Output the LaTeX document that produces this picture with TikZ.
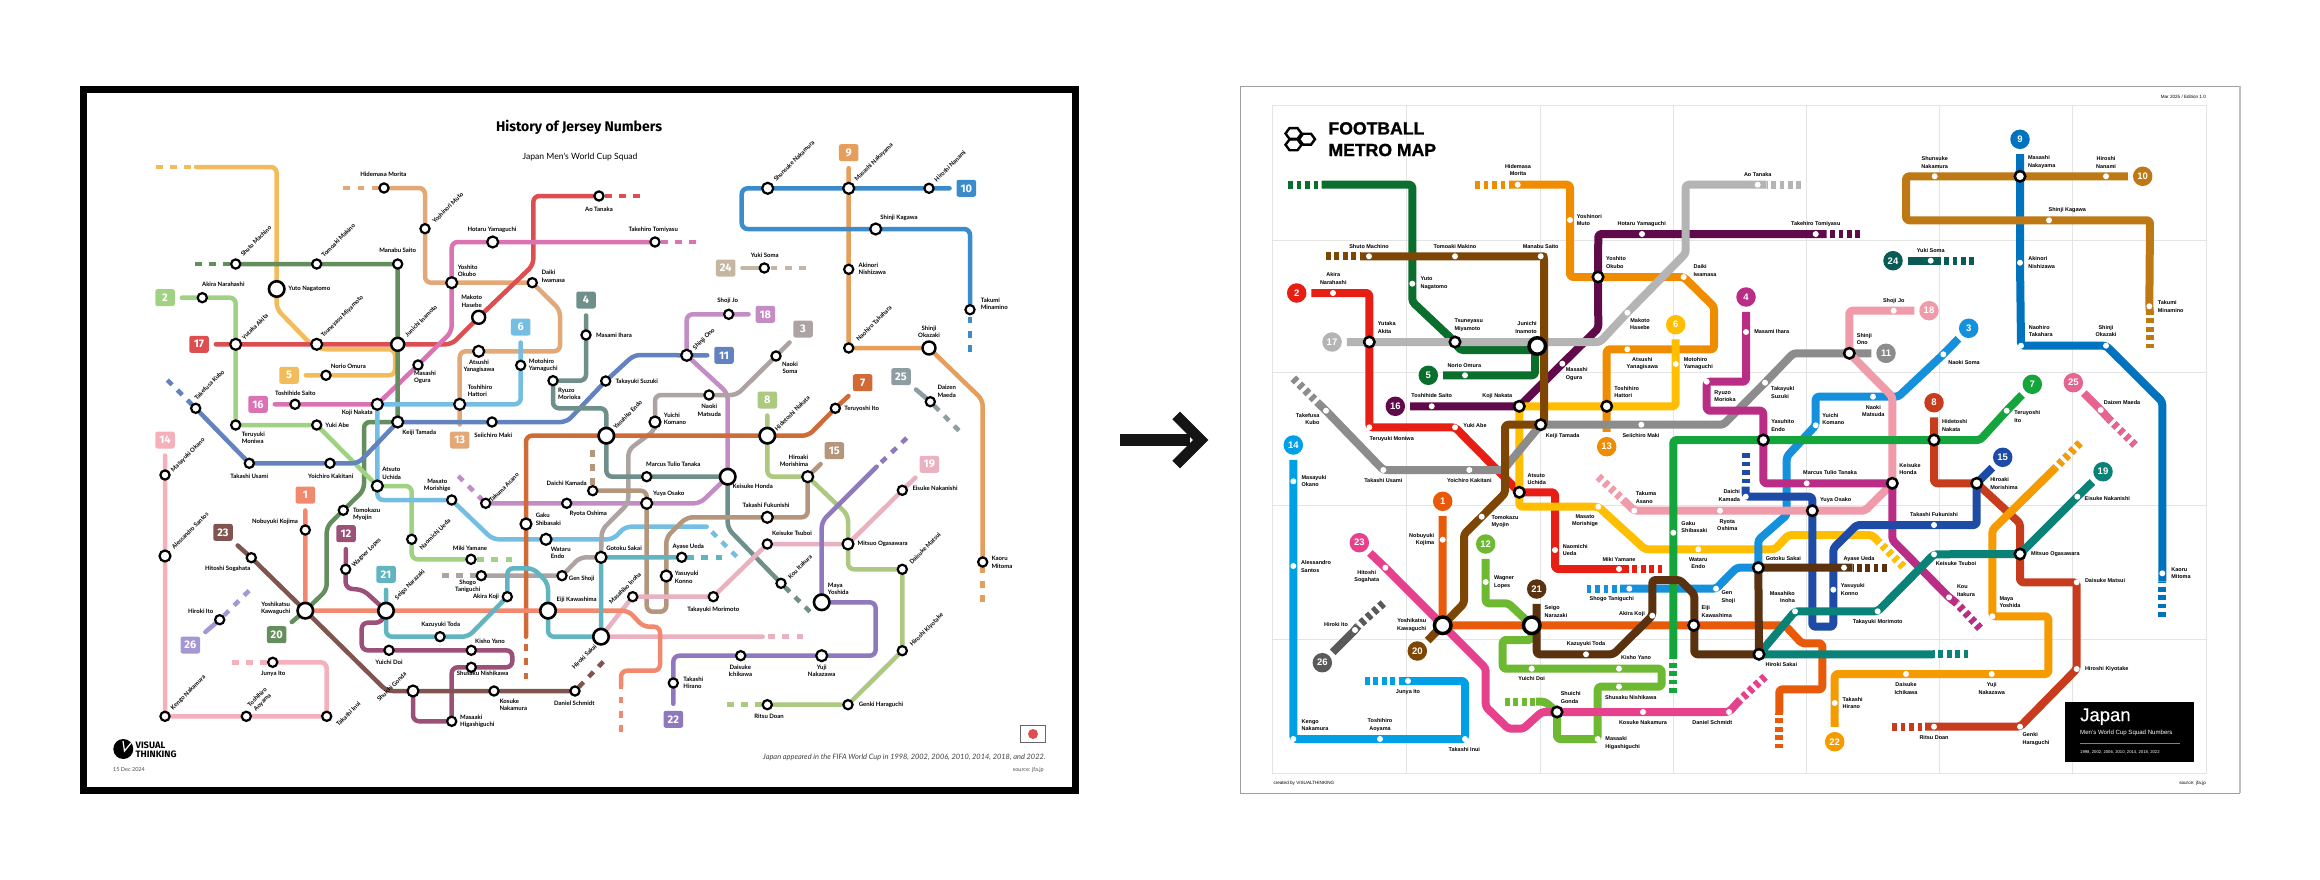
\documentclass[tikz,border=0pt]{standalone}
\usepackage{fontspec}
\setmainfont{Liberation Sans}
\newfontfamily\lfont{Lato}
\newfontfamily\tfont{Fira Sans}
\newfontfamily\heavy{Liberation Sans}[BoldFeatures={FakeBold=1.2}]
\newfontfamily\medf{Liberation Sans}[FakeBold=0.3]
\usetikzlibrary{shapes.geometric}
\pgfdeclarelayer{back}\pgfdeclarelayer{lines}
\pgfsetlayers{back,lines,main}
\definecolor{lA}{HTML}{F2896E}\definecolor{lB}{HTML}{A0D283}\definecolor{lC}{HTML}{ADA4A1}\definecolor{lD}{HTML}{6E8F8A}
\definecolor{lE}{HTML}{F2BC5C}\definecolor{lF}{HTML}{75BEE3}\definecolor{lG}{HTML}{D06A36}\definecolor{lH}{HTML}{ADC97F}
\definecolor{lI}{HTML}{E69E5C}\definecolor{lJ}{HTML}{3C8CCB}\definecolor{lK}{HTML}{6283BF}\definecolor{lL}{HTML}{9A5078}
\definecolor{lM}{HTML}{E2A878}\definecolor{lN}{HTML}{F5B0BC}\definecolor{lO}{HTML}{B4967C}\definecolor{lP}{HTML}{DB72B4}
\definecolor{lQ}{HTML}{DC4E50}\definecolor{lR}{HTML}{C48CC4}\definecolor{lS}{HTML}{EAB2C0}\definecolor{lT}{HTML}{658E5E}
\definecolor{lU}{HTML}{62B5C0}\definecolor{lV}{HTML}{8F78BE}\definecolor{lW}{HTML}{80554F}\definecolor{lX}{HTML}{C4B6A1}
\definecolor{lY}{HTML}{8D9DA1}\definecolor{lZ}{HTML}{A597D2}
\definecolor{rA}{HTML}{E85A0A}\definecolor{rB}{HTML}{E61E14}\definecolor{rC}{HTML}{1490DC}\definecolor{rD}{HTML}{B92D87}
\definecolor{rE}{HTML}{0A6E2D}\definecolor{rF}{HTML}{FFBE00}\definecolor{rG}{HTML}{14A53C}\definecolor{rH}{HTML}{C83C1E}
\definecolor{rI}{HTML}{0073BE}\definecolor{rJ}{HTML}{BE7814}\definecolor{rK}{HTML}{8C8C8C}\definecolor{rL}{HTML}{6EB932}
\definecolor{rM}{HTML}{F08C00}\definecolor{rN}{HTML}{00A0E6}\definecolor{rO}{HTML}{1E4BA5}\definecolor{rP}{HTML}{5F0A4B}
\definecolor{rQ}{HTML}{B4B4B4}\definecolor{rR}{HTML}{F09BAA}\definecolor{rS}{HTML}{0A8278}\definecolor{rT}{HTML}{7D4605}
\definecolor{rU}{HTML}{5A3210}\definecolor{rV}{HTML}{F59B00}\definecolor{rW}{HTML}{E6418C}\definecolor{rX}{HTML}{0A5A55}
\definecolor{rY}{HTML}{E66491}\definecolor{rZ}{HTML}{5A5A5A}
\definecolor{gridc}{HTML}{E4E4E4}
\tikzset{
 sL/.style={circle,draw=black,fill=white,line width=2.2pt,minimum size=9.2pt,inner sep=0pt},
 mL/.style={sL,minimum size=11pt},
 iL/.style={sL,minimum size=13pt,line width=2.4pt},
 bL/.style={sL,minimum size=15.5pt,line width=2.6pt},
 sR/.style={circle,fill=white,minimum size=6pt,inner sep=0pt},
 mR/.style={circle,draw=black,fill=white,line width=2.5pt,minimum size=10.5pt,inner sep=0pt},
 bR/.style={mR,minimum size=16.5pt,line width=3.5pt},
 labL/.style={font={\lfont\bfseries\fontsize{6}{7.2}\selectfont},align=center,inner sep=0pt},
 labR/.style={font={\bfseries\fontsize{5.5}{7.6}\selectfont},align=center,inner sep=0pt},
 rot/.style={rotate=45},
 baL/.style={rectangle,rounded corners=2.2pt,minimum width=19.5pt,minimum height=17pt,inner sep=0pt,outer sep=0pt,text=white,font={\tfont\bfseries\fontsize{11}{11}\selectfont}},
 baR/.style={circle,minimum size=19.5pt,inner sep=0pt,outer sep=0pt,text=white,font={\bfseries\fontsize{9.5}{10}\selectfont}},
 lnL/.style={line width=4.5pt,line cap=round,line join=round,rounded corners=6pt,shorten <=0pt},
 dL/.style={line width=4.5pt,dash pattern=on 6.8pt off 7.4pt},
 lnR/.style={line width=8pt,line join=round,rounded corners=3pt},
 dR/.style={line width=8pt,dash pattern=on 4.7pt off 3.7pt},
 fromL/.style={shorten <=7pt},
 fromR/.style={shorten <=5pt},
 toL/.style={shorten >=7pt},
 toR/.style={shorten >=5pt},
}
\newcommand{\Sta}[8][]{\coordinate (#2) at (#3,#4);\node[#5] (#2-s) at (#2) {};\node[lab,#1] (#2-t) at (#6,#7) {#8};}
\newcommand{\Bad}[5]{\node[ba,fill=#4] (#1) at (#2,#3) {#5};}
\begin{document}
\begin{tikzpicture}[x=1pt,y=-1pt]
\useasboundingbox (0,0) rectangle (2320,880);
\begin{pgfonlayer}{back}
\fill[white] (0,0) coordinate (pgTL) rectangle (2320,880) coordinate (pgBR);
\draw[black,line width=7pt] (83.5,89.5) rectangle (1075.5,790);
\draw[gray!75,line width=0.8pt] (1240.5,86) -- (2240,86);
\draw[gray!75,line width=0.8pt] (1240.5,86) -- (1240.5,793) -- (2240,793);
\draw[gray!50,line width=1.5pt] (2240,86) -- (2240,793);
\draw[gridc,line width=0.8pt] (1272.7,105.7) rectangle (2206.7,773.3);
\foreach \gx in {1406.7,1540,1673.3,1806.7,1939,2072.3} \draw[gridc,line width=0.8pt] (\gx,105.7) -- (\gx,773.3);
\foreach \gy in {240.3,372.3,505.7,639.3} \draw[gridc,line width=0.8pt] (1272.7,\gy) -- (2206.7,\gy);
\end{pgfonlayer}

%%%%%%%%%%%%%%%%%%%%%% LEFT MAP
\begin{scope}[lab/.style={labL},ba/.style={baL}]
\node[font={\tfont\bfseries\fontsize{14}{15}\selectfont},inner sep=0pt] (Ltitle) at (579,127) {History of Jersey Numbers};
\node[font={\lfont\fontsize{8.6}{10}\selectfont},inner sep=0pt] (Lsub) at (580,157) {Japan Men's World Cup Squad};
\node[font={\lfont\itshape\fontsize{7.4}{9}\selectfont},anchor=east,inner sep=0pt,text=black!75] (Lcap) at (1045.7,757) {Japan appeared in the FIFA World Cup in 1998, 2002, 2006, 2010, 2014, 2018, and 2022.};
\node[font={\lfont\fontsize{5.5}{7}\selectfont},anchor=east,inner sep=0pt,text=black!70] (Lsrc) at (1044,770) {source: jfa.jp};
\node[font={\lfont\fontsize{5.5}{7}\selectfont},anchor=west,inner sep=0pt,text=black!70] (Ldate) at (113,770) {15 Dec 2024};
\node[rectangle,draw=black!60,fill=white,line width=0.6pt,minimum width=25.4pt,minimum height=17pt,inner sep=0pt] (Lflag) at (1033,734.2) {};
\node[circle,fill=lQ,minimum size=10pt,inner sep=0pt] (Lsun) at (1033,734) {};
\node[circle,fill=black,minimum size=20pt,inner sep=0pt] (Llogo) at (123.3,749) {};
\draw[white,line width=1.2pt] (123,741) -- (124.5,751) -- (131,743);
\node[font={\tfont\bfseries\fontsize{9.3}{8.8}\selectfont},align=left,anchor=west,inner sep=0pt] (Llogot) at (135.5,750) {VISUAL\\ THINKING};

\Bad{Lb1}{305.3}{495}{lA}{1}\Bad{Lb2}{165}{297.7}{lB}{2}\Bad{Lb3}{803}{329}{lC}{3}\Bad{Lb4}{586}{300}{lD}{4}
\Bad{Lb5}{289}{375.3}{lE}{5}\Bad{Lb6}{520.7}{327}{lF}{6}\Bad{Lb7}{862.7}{382.7}{lG}{7}\Bad{Lb8}{767.3}{400}{lH}{8}
\Bad{Lb9}{848.7}{152.7}{lI}{9}\Bad{Lb10}{966.3}{188.3}{lJ}{10}\Bad{Lb11}{724}{355.3}{lK}{11}\Bad{Lb12}{346}{533.7}{lL}{12}
\Bad{Lb13}{459.7}{440}{lM}{13}\Bad{Lb14}{165}{440}{lN}{14}\Bad{Lb15}{834.3}{450.7}{lO}{15}\Bad{Lb16}{258}{404.3}{lP}{16}
\Bad{Lb17}{199}{344.3}{lQ}{17}\Bad{Lb18}{765.3}{314.3}{lR}{18}\Bad{Lb19}{929.3}{464.3}{lS}{19}\Bad{Lb20}{276.7}{634.7}{lT}{20}
\Bad{Lb21}{386}{574.3}{lU}{21}\Bad{Lb22}{673.3}{719.3}{lV}{22}\Bad{Lb23}{223}{532.3}{lW}{23}\Bad{Lb24}{725.7}{268}{lX}{24}
\Bad{Lb25}{901}{376.7}{lY}{25}\Bad{Lb26}{190.3}{645}{lZ}{26}

\Sta{Lmorita}{384}{188}{sL}{383.3}{174}{Hidemasa Morita}
\Sta[rot]{Lmuto}{425}{228.7}{sL}{447.7}{207.7}{Yoshinori Muto}
\Sta{Lyamah}{492.7}{242}{mL}{492}{230}{Hotaru Yamaguchi}
\Sta[align=left]{Lokubo}{451.7}{282.7}{mL}{467.7}{270.7}{Yoshito\\Okubo}
\Sta[align=left]{Liwa}{532.3}{282.7}{sL}{553.3}{276.3}{Daiki\\Iwamasa}
\Sta{Lhase}{478.7}{317.3}{iL}{471.7}{301.3}{Makoto\\Hasebe}
\Sta[rot]{Lmach}{235.7}{264}{sL}{256}{241}{Shuto Machino}
\Sta[rot]{Lmak}{316.7}{264}{sL}{338.3}{240.3}{Tomoaki Makino}
\Sta{Lsaitom}{397.7}{264}{sL}{397.7}{250.3}{Manabu Saito}
\Sta{Lnaga}{276.7}{289}{bL}{309.3}{289}{Yuto Nagatomo}
\Sta{Lnara}{202.3}{297.7}{sL}{223.3}{284}{Akira Narahashi}
\Sta[rot]{Lakita}{235.7}{344.3}{mL}{255}{326.7}{Yutaka Akita}
\Sta[rot]{Lmiya}{316.7}{344.3}{mL}{342.3}{316.7}{Tsuneyasu Miyamoto}
\Sta[rot]{Linam}{397.7}{344.3}{iL}{421}{321}{Junichi Inamoto}
\Sta{Lomura}{326}{375.3}{sL}{348.3}{366}{Norio Omura}
\Sta[align=left]{Logura}{418}{365}{sL}{425}{377.7}{Masashi\\Ogura}
\Sta{Lyana}{478.7}{351.3}{mL}{479}{366.7}{Atsushi\\Yanagisawa}
\Sta[align=left]{Lmoto}{520.7}{365.3}{sL}{543.3}{365.7}{Motohiro\\Yamaguchi}
\Sta[align=left]{Lhatt}{459.7}{404.3}{mL}{480}{391}{Toshihiro\\Hattori}
\Sta[align=left]{Lmorio}{553}{380.7}{sL}{569.3}{393.7}{Ryuzo\\Morioka}
\Sta{Lihara}{586}{335}{sL}{614}{335}{Masami Ihara}
\Sta{Lsaito}{295}{404.3}{sL}{295.3}{393.3}{Toshihide Saito}
\Sta{Lnakata}{377.3}{404.3}{mL}{357.3}{413}{Koji Nakata}
\Sta{Ltama}{397.7}{422}{mL}{419.3}{433.3}{Keiji Tamada}
\Sta{Lmaki}{492}{422}{sL}{493.3}{435.7}{Seiichiro Maki}
\Sta[rot]{Lkubo}{195.7}{408.3}{sL}{209.3}{385}{Takefusa Kubo}
\Sta[align=left]{Lmoni}{235.7}{425}{sL}{253.3}{437.7}{Teruyuki\\Moniwa}
\Sta{Labe}{316.7}{425}{sL}{337.3}{425}{Yuki Abe}
\Sta{Ltan}{599}{196}{sL}{599}{209.3}{Ao Tanaka}
\Sta{Ltomi}{655}{242}{sL}{653.3}{230}{Takehiro Tomiyasu}
\Sta{Lsuzu}{605.7}{381}{sL}{636.7}{381.7}{Takayuki Suzuki}
\Sta[rot]{Lono}{686.7}{355.3}{mL}{704}{339.3}{Shinji Ono}
\Sta{Ljo}{728.7}{314.3}{sL}{727.7}{300.7}{Shoji Jo}
\Sta{Lsom3}{776}{356}{sL}{790}{367.7}{Naoki\\Soma}
\Sta{Lmats}{709}{395}{sL}{709.3}{410.3}{Naoki\\Matsuda}
\Sta[align=left]{Lkoma}{655}{422}{mL}{675}{419}{Yuichi\\Komano}
\Sta[rot]{Lendoy}{606.3}{435.7}{bL}{627.7}{415}{Yasuhito Endo}
\Sta[rot]{Lnakah}{767.3}{435.7}{bL}{792.3}{413.3}{Hidetoshi Nakata}
\Sta{Lito}{835.3}{408.3}{sL}{861.7}{409}{Teruyoshi Ito}
\Sta[rot]{Lshun}{767.7}{188.3}{mL}{794}{161}{Shunsuke Nakamura}
\Sta[rot]{Lnaka9}{848.7}{188.3}{mL}{874}{162.3}{Masashi Nakayama}
\Sta[rot]{Lnana}{929}{188.3}{sL}{950}{166}{Hiroshi Nanami}
\Sta{Lkag}{875.7}{229}{mL}{899}{217.7}{Shinji Kagawa}
\Sta[align=left]{Lnish}{848.7}{269.3}{sL}{872.3}{269}{Akinori\\Nishizawa}
\Sta[align=left]{Lmina}{970}{309.7}{sL}{994.3}{303.7}{Takumi\\Minamino}
\Sta[rot]{Ltaka}{848.7}{348}{sL}{874}{323.3}{Naohiro Takahara}
\Sta{Lokaz}{929}{348}{iL}{929}{331.7}{Shinji\\Okazaki}
\Sta{Lsoma}{764.3}{268}{sL}{764.7}{255}{Yuki Soma}
\Sta[align=left]{Lmae}{930.3}{401.7}{sL}{946.7}{391.3}{Daizen\\Maeda}
\Sta{Ltulio}{646.7}{476.7}{sL}{673.3}{464.7}{Marcus Tulio Tanaka}
\Sta{Lhonda}{727.7}{476.7}{bL}{752.7}{486}{Keisuke Honda}
\Sta[align=right]{Lmorish}{807.7}{476.7}{mL}{794}{460.7}{Hiroaki\\Morishima}
\Sta{Losa}{646.7}{503.3}{mL}{668.7}{493.7}{Yuya Osako}
\Sta{Lkama}{592.7}{490.7}{sL}{566.7}{483.7}{Daichi Kamada}
\Sta{Losh}{566.7}{503.3}{sL}{588.3}{513.3}{Ryota Oshima}
\Sta[rot]{Lasa}{485.7}{503.3}{sL}{504}{487.7}{Takuma Asano}
\Sta{Lfuku}{767.3}{517.3}{mL}{766}{505}{Takashi Fukunishi}
\Sta{Lnk19}{902.3}{490.3}{sL}{935}{488.3}{Eisuke Nakanishi}
\Sta{Loga}{848}{544}{mL}{882.7}{544.3}{Mitsuo Ogasawara}
\Sta{Ltsu}{767.3}{544}{sL}{792}{533.7}{Keisuke Tsuboi}
\Sta{Lmorim}{713.3}{596.7}{sL}{713.3}{609.3}{Takayuki Morimoto}
\Sta[rot]{Lino}{632.7}{596.7}{sL}{625}{588.3}{Masahiko Inoha}
\Sta[rot]{Lsak}{601}{636.7}{bL}{584.3}{656.7}{Hiroki Sakai}
\Sta[rot]{Lmats2}{902.3}{569.3}{sL}{925}{548.3}{Daisuke Matsui}
\Sta[rot]{Lkiyo}{902.3}{650.7}{sL}{926.7}{630}{Hiroshi Kiyotake}
\Sta{Lhara}{848}{704.7}{sL}{881}{705}{Genki Haraguchi}
\Sta{Ldoan}{767.3}{704.7}{sL}{769}{716}{Ritsu Doan}
\Sta[rot]{Lita}{781}{583.3}{sL}{800}{566.7}{Kou Itakura}
\Sta[align=left]{Lmito}{982.7}{562}{sL}{1002}{562.3}{Kaoru\\Mitoma}
\Sta[align=left]{Lkon}{666.3}{576}{mL}{686.7}{577.3}{Yasuyuki\\Konno}
\Sta{Lgot}{601}{557.3}{mL}{624}{548.3}{Gotoku Sakai}
\Sta{Lued2}{681.7}{557.3}{sL}{688.3}{546.7}{Ayase Ueda}
\Sta{Lgen}{562}{575.7}{sL}{581.7}{578.7}{Gen Shoji}
\Sta{Ltani}{481.3}{575.7}{sL}{467.7}{586.7}{Shogo\\Taniguchi}
\Sta[align=left]{Lyosh}{821.7}{602.3}{bL}{838.3}{589}{Maya\\Yoshida}
\Sta{Lichi}{740.7}{655.7}{sL}{740.3}{670.7}{Daisuke\\Ichikawa}
\Sta{Lnakz}{821.7}{655.7}{mL}{821.7}{670.7}{Yuji\\Nakazawa}
\Sta[align=left]{Lhira}{673.3}{683}{sL}{693.3}{682.7}{Takashi\\Hirano}
\Sta[rot]{Lsant}{165}{556}{mL}{190}{530.7}{Alessandro Santos}
\Sta[rot]{Loka}{165}{475}{sL}{188}{455}{Masayuki Okano}
\Sta[rot]{Lkeng}{165}{716.3}{sL}{188.3}{692.7}{Kengo Nakamura}
\Sta[rot]{Laoy}{246.3}{716.3}{sL}{260}{700}{Toshihiro\\Aoyama}
\Sta[rot]{Linui}{326.7}{716.3}{sL}{348.3}{714}{Takashi Inui}
\Sta{Ljun}{272.7}{662.3}{sL}{273.3}{674}{Junya Ito}
\Sta{Lusa}{249.3}{463.3}{sL}{249.3}{476}{Takashi Usami}
\Sta{Lkaki}{330}{463.3}{sL}{330.7}{476}{Yoichiro Kakitani}
\Sta[align=left]{Luchi}{377.3}{486}{mL}{391.7}{473.3}{Atsuto\\Uchida}
\Sta{Lmori}{451.7}{500}{sL}{437.3}{485}{Masato\\Morishige}
\Sta[rot]{Lueda}{411.7}{539.3}{sL}{435}{534.3}{Naomichi Ueda}
\Sta{Lyama}{471}{559.3}{sL}{470}{548.3}{Miki Yamane}
\Sta[align=left]{Lendo}{546}{539.3}{mL}{560.7}{552.7}{Wataru\\Endo}
\Sta[align=left]{Lshiba}{526}{524}{mL}{548.3}{519.3}{Gaku\\Shibasaki}
\Sta[align=left]{Lmyo}{343.3}{510.3}{sL}{366.7}{514}{Tomokazu\\Myojin}
\Sta{Lkoj}{305.3}{530}{sL}{275}{522}{Nobuyuki Kojima}
\Sta{Lkawa}{305.3}{610.7}{bL}{275.7}{608.7}{Yoshikatsu\\Kawaguchi}
\Sta{Lsoga}{251.3}{557.7}{sL}{227.7}{569}{Hitoshi Sogahata}
\Sta{Lhito}{219.7}{619.7}{sL}{200.7}{611}{Hiroki Ito}
\Sta[rot]{Llop}{345.7}{569.3}{sL}{366.7}{552.7}{Wagner Lopes}
\Sta[rot]{Lnar2}{386}{610.7}{bL}{410}{585}{Seigo Narazaki}
\Sta{Lkoji}{507.3}{596.7}{sL}{486}{596.7}{Akira Koji}
\Sta{Lkawash}{548}{610.7}{bL}{576.7}{600}{Eiji Kawashima}
\Sta{Ltoda}{440}{636.7}{sL}{440.7}{624.3}{Kazuyuki Toda}
\Sta{Ldoi}{389}{650.3}{sL}{389}{662}{Yuichi Doi}
\Sta{Lyano}{471.3}{650.3}{sL}{490}{641.3}{Kisho Yano}
\Sta{Lnishi}{471.3}{667.3}{sL}{482.7}{673.3}{Shusaku Nishikawa}
\Sta[rot]{Lgon}{413}{691}{mL}{391.7}{686.7}{Shuichi Gonda}
\Sta[align=left]{Lhiga}{451.7}{721.3}{sL}{477.3}{721.3}{Masaaki\\Higashiguchi}
\Sta[align=left]{Lknak}{494}{691}{sL}{513.3}{704.7}{Kosuke\\Nakamura}
\Sta{Lschm}{575}{691}{sL}{574.3}{703.3}{Daniel Schmidt}

\begin{pgfonlayer}{lines}
\draw[dL,lE] (156,167) coordinate (Le5) -- (196,167);
\draw[lnL,lE,toL] (196,167) -- (276.7,167) -- (Lnaga) -- (276.7,309) -- (311.7,345) -- (321.7,349.3) -- (395,349.3) -- (395,375.3) -- (Lomura) -- (Lb5);
\draw[dL,lM] (343.3,188) coordinate (Le13) -- (Lmorita);
\draw[lnL,lM,toL] (Lmorita) -- (425,188) -- (Lmuto) -- (425,282.7) -- (Lokubo) -- (Liwa) -- (560,310) -- (560,351.3) -- (Lyana) -- (459.7,351.3) -- (Lhatt) -- (Lb13);
\draw[dL,lQ] (640,196) coordinate (Le17) -- (Ltan);
\draw[lnL,lQ,fromL] (Lb17) -- (Lakita) -- (Lmiya) -- (Linam) -- (451.7,344.3) -- (Lhase) -- (533.3,265) -- (533.3,196) -- (Ltan);
\draw[dL,lP] (696,242) coordinate (Le16) -- (Ltomi);
\draw[lnL,lP,fromL] (Lb16) -- (Lsaito) -- (Lnakata) -- (Logura) -- (451.7,331.7) -- (Lokubo) -- (451.7,242) -- (Lyamah) -- (Ltomi);
\draw[dL,lT] (195,264) coordinate (Le20) -- (Lmach);
\draw[lnL,lT,toL] (Lmach) -- (Lmak) -- (Lsaitom) -- (Linam) -- (Ltama) -- (364,422) -- (364,490) -- (Lmyo) -- (326.7,526.7) -- (326.7,590) -- (Lkawa) -- (Lb20);
\draw[dL,lB] (512.3,559.3) coordinate (Le2) -- (Lyama);
\draw[lnL,lB,fromL] (Lb2) -- (Lnara) -- (235.7,297.7) -- (Lakita) -- (Lmoni) -- (Labe) -- (Luchi) -- (411.7,486) -- (Lueda) -- (411.7,559.3) -- (Lyama);
\draw[dL,lF] (736.7,556.7) coordinate (Le6) -- (710,530);
\draw[lnL,lF,fromL] (Lb6) -- (Lmoto) -- (520.7,404.3) -- (Lhatt) -- (Lnakata) -- (Luchi) -- (377.3,500) -- (Lmori) -- (492.7,539.3) -- (Lendo) -- (613.3,539.3) -- (625,526.7) -- (706.7,526.7);
\draw[dL,lK] (167.3,380) coordinate (Le11) -- (Lkubo);
\draw[lnL,lK,toL] (Lkubo) -- (Lusa) -- (Lkaki) -- (358.3,463.3) -- (Ltama) -- (Lmaki) -- (566.7,422) -- (Lsuzu) -- (634,355) -- (Lono) -- (Lb11);
\draw[dL,lR] (458.3,476) coordinate (Le18) -- (Lasa);
\draw[lnL,lR,fromL] (Lb18) -- (Ljo) -- (686.7,314.3) -- (Lono) -- (727.7,393.3) -- (Lhonda) -- (700,503.3) -- (Losa) -- (Losh) -- (Lasa);
\draw[dL,lC] (441.7,575.7) coordinate (Le3) -- (Ltani);
\draw[lnL,lC,fromL] (Lb3) -- (Lsom3) -- (736.7,395) -- (Lmats) -- (655,395) -- (Lkoma) -- (655,430) -- (628.3,450) -- (628.3,503.3) -- (601.7,530) -- (Lgot) -- (580,557.3) -- (Lgen) -- (Ltani);
\draw[dL,lD] (810,611.7) coordinate (Le4) -- (Lita);
\draw[lnL,lD,fromL] (Lb4) -- (Lihara) -- (586,380.7) -- (Lmorio) -- (553,408.3) -- (606.3,408.3) -- (Lendoy) -- (606.3,476.7) -- (Ltulio) -- (Lhonda) -- (727.7,528.3) -- (Lita);
\draw[dL,lG] (526,679.3) coordinate (Le7) -- (526,636.7);
\draw[lnL,lG,fromL] (Lb7) -- (Lito) -- (808.3,435.7) -- (Lnakah) -- (Lendoy) -- (526,435.7) -- (Lshiba) -- (526,636.7);
\draw[dL,lH] (726.7,704.7) coordinate (Le8) -- (Ldoan);
\draw[lnL,lH,fromL] (Lb8) -- (Lnakah) -- (767.3,476.7) -- (Lmorish) -- (848,515) -- (Loga) -- (848,569.3) -- (Lmats2) -- (Lkiyo) -- (Lhara) -- (Ldoan);
\draw[dL,lO] (592.7,450) coordinate (Le15) -- (Lkama);
\draw[lnL,lO,fromL] (Lb15) -- (Lmorish) -- (807.7,517.3) -- (Lfuku) -- (686.7,517.3) -- (666.3,537.3) -- (Lkon) -- (666.3,611.7) -- (646.7,611.7) -- (Losa) -- (646.7,490.7) -- (Lkama);
\draw[dL,lI] (982.7,601.7) coordinate (Le9) -- (Lmito);
\draw[lnL,lI,fromL] (Lb9) -- (Lnaka9) -- (Lnish) -- (Ltaka) -- (Lokaz) -- (982.7,400) -- (Lmito);
\draw[dL,lJ] (970,351.7) coordinate (Le10) -- (Lmina);
\draw[lnL,lJ,fromL] (Lb10) -- (Lnana) -- (Lnaka9) -- (Lshun) -- (741.7,188.3) -- (741.7,229) -- (Lkag) -- (970,229) -- (Lmina);
\draw[dL,lX] (805.7,268) coordinate (Le24) -- (Lsoma);
\draw[lnL,lX,fromL] (Lb24) -- (Lsoma);
\draw[dL,lY] (959,430.7) coordinate (Le25) -- (Lmae);
\draw[lnL,lY,fromL] (Lb25) -- (Lmae);
\draw[dL,lS] (803.3,636.7) coordinate (Le19) -- (762.7,636.7);
\draw[lnL,lS,fromL] (Lb19) -- (Lnk19) -- (Loga) -- (Ltsu) -- (Lmorim) -- (Lino) -- (Lsak) -- (762.7,636.7);
\draw[dL,lV] (906.7,438) coordinate (Le22) -- (876.7,466.7);
\draw[lnL,lV,fromL] (Lb22) -- (Lhira) -- (673.3,655.7) -- (Lichi) -- (Lnakz) -- (875.7,655.7) -- (875.7,602.3) -- (Lyosh) -- (821.7,521.7) -- (876.7,466.7);
\draw[dL,lZ] (249,590.7) coordinate (Le26) -- (Lhito);
\draw[lnL,lZ,fromL] (Lb26) -- (Lhito);
\draw[dL,lA] (621,731.7) coordinate (Le1) -- (621,686.7);
\draw[lnL,lA,fromL] (Lb1) -- (Lkoj) -- (Lkawa) -- (Lnar2) -- (Lkawash) -- (628.3,610.7) -- (643.3,626.7) -- (660,626.7) -- (660,670.7) -- (621,670.7) -- (621,686.7);
\draw[lnL,lL,fromL] (Lb12) -- (Llop) -- (345.7,588.3) -- (363.3,590) -- (Lnar2) -- (381.7,622.7) -- (361.7,622.7) -- (361.7,650.3) -- (Ldoi) -- (Lyano) -- (512.3,650.3) -- (512.3,667.3) -- (Lnishi) -- (451.7,667.3) -- (Lhiga) -- (413,721.3) -- (Lgon);
\draw[dL,lU] (722.3,557.3) coordinate (Le21) -- (Lued2);
\draw[lnL,lU,fromL] (Lb21) -- (Lnar2) -- (386,636.7) -- (Ltoda) -- (468.3,636.7) -- (Lkoji) -- (507.3,568.3) -- (533.3,568.3) -- (548,583.3) -- (Lkawash) -- (548,636.7) -- (Lsak) -- (Lgot) -- (Lued2);
\draw[dL,lW] (603.3,661.7) coordinate (Le23) -- (Lschm);
\draw[lnL,lW,fromL] (Lb23) -- (Lsoga) -- (Lkawa) -- (386.7,691) -- (Lgon) -- (Lknak) -- (Lschm);
\draw[dL,lN] (232,662.3) coordinate (Le14) -- (Ljun);
\draw[lnL,lN,fromL] (Lb14) -- (Loka) -- (Lsant) -- (Lkeng) -- (Laoy) -- (Linui) -- (326.7,662.3) -- (Ljun);
\end{pgfonlayer}
\end{scope}

%%%%%%%%%%%%%%%%%%%% ARROW
\fill[black!92] (1120,434) rectangle (1190,446);
\fill[black!92] (1208.3,440) -- (1180,411.7) -- (1172.3,419.3) -- (1193,440) -- (1172.3,460.7) -- (1180,468.3) -- cycle;

%%%%%%%%%%%%%%%%%%%%%% RIGHT MAP
\begin{scope}[lab/.style={labR},ba/.style={baR}]
\node[font={\heavy\bfseries\fontsize{17.6}{21.6}\selectfont},align=left,anchor=west,inner sep=0pt] (Rtitle) at (1328.3,139.2) {FOOTBALL\\METRO MAP};
\foreach \hx/\hy in {1293.5/133.5, 1293.5/144.8, 1307/139.2}
  \draw[black,line width=2.4pt] (\hx+8,\hy) -- (\hx+4,\hy-5.4) -- (\hx-4,\hy-5.4) -- (\hx-8,\hy) -- (\hx-4,\hy+5.4) -- (\hx+4,\hy+5.4) -- cycle;
\node[font={\fontsize{4.6}{6}\selectfont},anchor=east,inner sep=0pt] (Rdate) at (2206,96.7) {Mar 2025 / Edition 1.0};
\node[font={\fontsize{4.6}{6}\selectfont},anchor=west,inner sep=0pt] (Rcre) at (1273.3,783) {created by VISUALTHINKING};
\node[font={\fontsize{4.6}{6}\selectfont},anchor=east,inner sep=0pt] (Rsrc) at (2206,783) {source: jfa.jp};
\node[fill=black,minimum width=129pt,minimum height=60pt,inner sep=0pt] (Rbox) at (2129.5,731.7) {};
\node[font={\medf\fontsize{18.5}{20}\selectfont},text=white,anchor=west,inner sep=0pt] (Rjap) at (2080,716.7) {Japan};
\node[font={\fontsize{6.1}{7}\selectfont},text=white,anchor=west,inner sep=0pt] (Rmen) at (2080,733.3) {Men's World Cup Squad Numbers};
\draw[gray,line width=0.4pt] (2080,743.3) coordinate (Rr1) -- (2180,743.3) coordinate (Rr2);
\node[font={\fontsize{4.2}{5}\selectfont},text=white,anchor=west,inner sep=0pt] (Ryrs) at (2080,752) {1998, 2002, 2006, 2010, 2014, 2018, 2022};

\Bad{Rb1}{1442.7}{501.3}{rA}{1}\Bad{Rb2}{1296.7}{293}{rB}{2}\Bad{Rb3}{1968.7}{328.3}{rC}{3}\Bad{Rb4}{1746}{297}{rD}{4}
\Bad{Rb5}{1428.3}{375.3}{rE}{5}\Bad{Rb6}{1675.7}{324.7}{rF}{6}\Bad{Rb7}{2032.3}{384.3}{rG}{7}\Bad{Rb8}{1934}{402.7}{rH}{8}
\Bad{Rb9}{2020}{139.3}{rI}{9}\Bad{Rb10}{2142.7}{176.3}{rJ}{10}\Bad{Rb11}{1886}{353.3}{rK}{11}\Bad{Rb12}{1485.7}{544}{rL}{12}
\Bad{Rb13}{1606.7}{446.7}{rM}{13}\Bad{Rb14}{1293.3}{445}{rN}{14}\Bad{Rb15}{2002.7}{457.3}{rO}{15}\Bad{Rb16}{1395.3}{406.3}{rP}{16}
\Bad{Rb17}{1332}{342}{rQ}{17}\Bad{Rb18}{1929}{310.7}{rR}{18}\Bad{Rb19}{2103}{471.7}{rS}{19}\Bad{Rb20}{1417.3}{651}{rT}{20}
\Bad{Rb21}{1536.7}{589}{rU}{21}\Bad{Rb22}{1834.7}{741.7}{rV}{22}\Bad{Rb23}{1359.3}{542.7}{rW}{23}\Bad{Rb24}{1893}{260.7}{rX}{24}
\Bad{Rb25}{2073.3}{382.7}{rY}{25}\Bad{Rb26}{1322.3}{662.7}{rZ}{26}

\Sta{Rnar}{1333}{293}{sR}{1333.3}{278.7}{Akira\\Narahashi}
\Sta[align=left]{Rakita}{1369.3}{342}{mR}{1386.7}{327.7}{Yutaka\\Akita}
\Sta{Rmoni}{1369.3}{427.3}{sR}{1391.7}{439}{Teruyuki Moniwa}
\Sta{Rabe}{1455}{427.3}{sR}{1475}{426}{Yuki Abe}
\Sta[align=left]{Ruch}{1519.3}{492.3}{mR}{1536.7}{479}{Atsuto\\Uchida}
\Sta[align=left]{Rued}{1555}{550}{sR}{1575.3}{550}{Naomichi\\Ueda}
\Sta{Ryam}{1619}{569}{sR}{1619}{560}{Miki Yamane}
\Sta[align=left]{Rnaga}{1412.3}{283.7}{sR}{1434}{283.3}{Yuto\\Nagatomo}
\Sta[align=left]{Rmiya}{1455}{342}{mR}{1468.7}{325.3}{Tsuneyasu\\Miyamoto}
\Sta{Romu}{1465}{375.3}{sR}{1464.3}{366}{Norio Omura}
\Sta{Rmach}{1369}{256.3}{sR}{1369}{247}{Shuto Machino}
\Sta{Rmak2}{1455}{256.3}{sR}{1455}{247}{Tomoaki Makino}
\Sta{Rsaim}{1540.7}{256.3}{sR}{1540.7}{247}{Manabu Saito}
\Sta[align=right]{Rina}{1537.3}{346}{bR}{1526}{327.3}{Junichi\\Inamoto}
\Sta{Rtam}{1540.7}{424.7}{mR}{1562.7}{435.7}{Keiji Tamada}
\Sta[align=left]{Rmyo}{1481.7}{516.7}{sR}{1505}{521.7}{Tomokazu\\Myojin}
\Sta[align=right]{Rkawa}{1442.7}{625.3}{bR}{1411.7}{625.3}{Yoshikatsu\\Kawaguchi}
\Sta{Rmor}{1517.7}{184.7}{sR}{1518}{170}{Hidemasa\\Morita}
\Sta[align=left]{Rmut}{1570}{220}{sR}{1589.3}{220}{Yoshinori\\Muto}
\Sta{Ryamh}{1642}{234}{sR}{1641.7}{223.7}{Hotaru Yamaguchi}
\Sta[align=left]{Rokub}{1598}{277}{mR}{1616}{262.7}{Yoshito\\Okubo}
\Sta[align=left]{Riwa}{1683.7}{277}{sR}{1705}{270.7}{Daiki\\Iwamasa}
\Sta{Rhas}{1627.3}{312.7}{sR}{1640}{324}{Makoto\\Hasebe}
\Sta{Ryanag}{1627.3}{349.3}{sR}{1642.3}{363.7}{Atsushi\\Yanagisawa}
\Sta[align=left]{Rhat}{1606.7}{406.3}{mR}{1626.7}{392}{Toshihiro\\Hattori}
\Sta{Rsai}{1431.7}{406.3}{sR}{1431.7}{395.7}{Toshihide Saito}
\Sta{Rnak}{1519.3}{406.3}{mR}{1497.3}{395.7}{Koji Nakata}
\Sta[align=left]{Rogu}{1562.3}{363.7}{sR}{1576.7}{374.3}{Masashi\\Ogura}
\Sta{Rtomi}{1815.7}{234}{sR}{1815.7}{223.7}{Takehiro Tomiyasu}
\Sta{Rtan}{1757.7}{184.7}{sR}{1757.7}{174.3}{Ao Tanaka}
\Sta[align=left]{Rmot}{1675.7}{364}{sR}{1698.3}{363.7}{Motohiro\\Yamaguchi}
\Sta{Rmors}{1598.3}{506.7}{sR}{1585}{520.7}{Masato\\Morishige}
\Sta{Rend}{1698.3}{549.3}{sR}{1698.3}{563.3}{Wataru\\Endo}
\Sta[align=right]{Rkub}{1326}{410.7}{sR}{1307.7}{419}{Takefusa\\Kubo}
\Sta{Rusa}{1383.3}{470}{sR}{1383.3}{481}{Takashi Usami}
\Sta{Rkak}{1469.3}{470}{sR}{1469.3}{481}{Yoichiro Kakitani}
\Sta{Rmak}{1641.3}{424.7}{sR}{1641}{435.7}{Seiichiro Maki}
\Sta[align=left]{Rsuz}{1765}{382.7}{sR}{1782.7}{392.3}{Takayuki\\Suzuki}
\Sta[align=left]{Rono}{1849.3}{353.3}{mR}{1864.3}{339}{Shinji\\Ono}
\Sta[align=left]{Roka}{1293.3}{481.3}{sR}{1314}{481}{Masayuki\\Okano}
\Sta[align=left]{Rsan}{1293.3}{566}{sR}{1316}{566.3}{Alessandro\\Santos}
\Sta[align=left]{Rken}{1293.3}{739}{sR}{1315}{725}{Kengo\\Nakamura}
\Sta{Raoy}{1380}{739}{sR}{1380}{725}{Toshihiro\\Aoyama}
\Sta{Rinu}{1465}{739}{sR}{1464.3}{749.3}{Takashi Inui}
\Sta{Rjun}{1408}{681}{sR}{1408}{691.7}{Junya Ito}
\Sta[align=left]{Rlop}{1485.7}{582}{sR}{1504}{582.3}{Wagner\\Lopes}
\Sta[align=left]{Rnara}{1531.7}{625.3}{bR}{1556}{611.3}{Seigo\\Narazaki}
\Sta{Rdoi}{1531.7}{668.7}{sR}{1531.7}{679}{Yuichi Doi}
\Sta{Ryano}{1619}{668.7}{sR}{1636}{658}{Kisho Yano}
\Sta{Rnis}{1619}{686.7}{sR}{1630.7}{697.3}{Shusaku Nishikawa}
\Sta[align=left]{Rhig}{1597.7}{739}{sR}{1622.7}{743}{Masaaki\\Higashiguchi}
\Sta[align=left]{Rgon}{1557}{712}{mR}{1570.7}{697.7}{Shuichi\\Gonda}
\Sta[align=right]{Rkoj}{1442.7}{539.7}{sR}{1421.7}{539.7}{Nobuyuki\\Kojima}
\Sta{Rsom3}{1943.3}{354.3}{sR}{1964}{362.7}{Naoki Soma}
\Sta{Rmats}{1873}{396.7}{sR}{1873.3}{411}{Naoki\\Matsuda}
\Sta[align=left]{Rkom}{1815.7}{425.3}{sR}{1833.3}{419}{Yuichi\\Komano}
\Sta{Rgot}{1758.3}{567.7}{mR}{1783.3}{558.7}{Gotoku Sakai}
\Sta[align=left]{Rgen}{1716}{588.7}{sR}{1728.3}{597.3}{Gen\\Shoji}
\Sta{Rtan2}{1629.3}{588.7}{sR}{1611.7}{599.3}{Shogo Taniguchi}
\Sta{Rjo}{1893.7}{310.7}{sR}{1893.7}{301}{Shoji Jo}
\Sta[align=left]{Rhon}{1892.3}{483.3}{mR}{1910}{469}{Keisuke\\Honda}
\Sta{Rosa}{1812.3}{510.7}{mR}{1835.7}{500.3}{Yuya Osako}
\Sta{Rosh}{1720}{510.7}{sR}{1727.3}{525}{Ryota\\Oshima}
\Sta[align=left]{Rasa}{1634.3}{510.7}{sR}{1646}{497.3}{Takuma\\Asano}
\Sta{Riha}{1746}{332}{sR}{1771.7}{332}{Masami Ihara}
\Sta[align=left]{Rmori2}{1706.7}{381.7}{sR}{1725}{396}{Ryuzo\\Morioka}
\Sta[align=left]{Rendy}{1763.3}{440}{mR}{1782.7}{425.7}{Yasuhito\\Endo}
\Sta{Rtul}{1806.7}{483.3}{sR}{1830}{473}{Marcus Tulio Tanaka}
\Sta[align=left]{Rita}{1949}{597.3}{sR}{1966}{590.7}{Kou\\Itakura}
\Sta[align=left]{Rshi}{1673.3}{532.7}{sR}{1694.3}{527}{Gaku\\Shibasaki}
\Sta[align=left]{Rnakh}{1934}{440}{mR}{1954.7}{425.7}{Hidetoshi\\Nakata}
\Sta[align=left]{Rito}{2006.7}{410.7}{sR}{2027.3}{416.7}{Teruyoshi\\Ito}
\Sta[align=left]{Rmori}{1976.7}{483.3}{mR}{2004}{483.3}{Hiroaki\\Morishima}
\Sta{Rfuk}{1934}{525}{sR}{1934}{514.7}{Takashi Fukunishi}
\Sta[align=left]{Rkon}{1833.3}{589.7}{sR}{1852.7}{589.3}{Yasuyuki\\Konno}
\Sta[align=right]{Rkam}{1745.7}{496.7}{sR}{1729.3}{495.7}{Daichi\\Kamada}
\Sta{Roga}{2020}{554}{mR}{2055.3}{554}{Mitsuo Ogasawara}
\Sta{Rmat}{2076.7}{582.3}{sR}{2105}{581}{Daisuke Matsui}
\Sta{Rkiy}{2076.7}{669}{sR}{2106.7}{669}{Hiroshi Kiyotake}
\Sta[align=left]{Rhar}{2020}{726.7}{sR}{2036}{739.3}{Genki\\Haraguchi}
\Sta{Rdoa}{1934}{726.7}{sR}{1934}{737.3}{Ritsu Doan}
\Sta[align=left]{Rhir}{1834.7}{703}{sR}{1852.7}{703}{Takashi\\Hirano}
\Sta{Rich}{1906}{674}{sR}{1906}{688.3}{Daisuke\\Ichikawa}
\Sta{Rnaz}{1991.7}{674}{sR}{1991.7}{688.3}{Yuji\\Nakazawa}
\Sta[align=left]{Ryos}{1992.3}{616.3}{sR}{2010}{602.3}{Maya\\Yoshida}
\Sta{Rnkn}{2077.3}{496.7}{sR}{2107.3}{499}{Eisuke Nakanishi}
\Sta{Rtsu}{1934}{554.3}{sR}{1956}{564}{Keisuke Tsuboi}
\Sta{Rmrm}{1877.7}{611.3}{sR}{1877.7}{621.7}{Takayuki Morimoto}
\Sta[align=right]{Rino}{1795}{611.3}{sR}{1782.3}{597}{Masahiko\\Inoha}
\Sta{Rsak}{1759}{654.3}{mR}{1781.3}{664.7}{Hiroki Sakai}
\Sta{Rtod}{1586}{654.3}{sR}{1586}{644}{Kazuyuki Toda}
\Sta{Rkji}{1652.3}{615.7}{sR}{1632}{613.7}{Akira Koji}
\Sta[align=left]{Rkawash}{1693.7}{625.3}{mR}{1716.7}{611.3}{Eiji\\Kawashima}
\Sta{Rued2}{1844}{567.7}{sR}{1859}{558.7}{Ayase Ueda}
\Sta{Rsog}{1385.3}{567.7}{sR}{1366.7}{576.7}{Hitoshi\\Sogahata}
\Sta{Rkna}{1643}{712}{sR}{1643}{722.7}{Kosuke Nakamura}
\Sta{Rsch}{1729}{712}{sR}{1712.3}{722.7}{Daniel Schmidt}
\Sta{Rhit}{1355}{630}{sR}{1336}{625}{Hiroki Ito}
\Sta{Rshu}{1934.7}{176.3}{sR}{1934.7}{162.3}{Shunsuke\\Nakamura}
\Sta[align=left]{Rnky}{2020}{176.3}{mR}{2041.7}{162.3}{Masashi\\Nakayama}
\Sta{Rnan}{2106}{176.3}{sR}{2106}{162.3}{Hiroshi\\Nanami}
\Sta{Rkag}{2049}{220.3}{sR}{2067.3}{210}{Shinji Kagawa}
\Sta[align=left]{Rmin}{2149.3}{306.3}{sR}{2170.7}{306.3}{Takumi\\Minamino}
\Sta[align=left]{Rnsh}{2020}{262.7}{sR}{2041.7}{262.7}{Akinori\\Nishizawa}
\Sta[align=left]{Rtak}{2021}{345.7}{sR}{2040.7}{331}{Naohiro\\Takahara}
\Sta{Roka2}{2106}{345.7}{sR}{2106}{331}{Shinji\\Okazaki}
\Sta[align=left]{Rmit}{2162.3}{573.3}{sR}{2181}{573.3}{Kaoru\\Mitoma}
\Sta{Rsom}{1930.7}{260.7}{sR}{1930.7}{250.3}{Yuki Soma}
\Sta{Rmae}{2100.7}{410}{sR}{2122}{402.7}{Daizen Maeda}

\begin{pgfonlayer}{lines}
\draw[dR,rA] (1779.3,748.3) coordinate (Re1) -- (1779.3,713.3);
\draw[lnR,rA,fromR] (Rb1) -- (Rkoj) -- (Rkawa) -- (Rnara) -- (Rkawash) -- (1785,625.3) -- (1801.7,643.3) -- (1822.3,643.3) -- (1822.3,689.3) -- (1779.3,689.3) -- (1779.3,713.3);
\draw[dR,rE] (1288.3,184.7) coordinate (Re5) -- (1321.7,184.7);
\draw[lnR,rE,toR] (1321.7,184.7) -- (1412.3,184.7) -- (Rnaga) -- (1412.3,301.7) -- (Rmiya) -- (1460,350) -- (1535,350) -- (1535,375.3) -- (Romu) -- (Rb5);
\draw[dR,rB] (1662.3,569) coordinate (Re2) -- (1628.3,569);
\draw[lnR,rB,fromR] (Rb2) -- (Rnar) -- (1369.3,293) -- (Rakita) -- (Rmoni) -- (Rabe) -- (Ruch) -- (1555,492.3) -- (Rued) -- (1555,569) -- (Ryam) -- (1628.3,569);
\draw[dR,rM] (1475.3,184.7) coordinate (Re13) -- (1509,184.7);
\draw[lnR,rM,toR] (1509,184.7) -- (Rmor) -- (1570,184.7) -- (Rmut) -- (1570,277) -- (Rokub) -- (Riwa) -- (1714,306.7) -- (1714,349.3) -- (Ryanag) -- (1606.7,349.3) -- (Rhat) -- (Rb13);
\draw[dR,rP] (1860,234) coordinate (Re16) -- (1826.7,234);
\draw[lnR,rP,fromR] (Rb16) -- (Rsai) -- (Rnak) -- (Rogu) -- (1598.3,328.3) -- (Rokub) -- (1598.3,234) -- (Ryamh) -- (Rtomi) -- (1826.7,234);
\draw[dR,rQ] (1801,184.7) coordinate (Re17) -- (1766.7,184.7);
\draw[lnR,rQ,fromR] (Rb17) -- (Rakita) -- (Rmiya) -- (1600,342) -- (Rhas) -- (1685.7,253.3) -- (1685.7,184.7) -- (Rtan) -- (1766.7,184.7);
\draw[dR,rF] (1903.3,566.7) coordinate (Re6) -- (1878,541);
\draw[lnR,rF,fromR] (Rb6) -- (Rmot) -- (1675.7,406.3) -- (Rhat) -- (Rnak) -- (1519.3,506.7) -- (Rmors) -- (1645,549.3) -- (Rend) -- (1775,549.3) -- (1788.3,535) -- (1871.7,535) -- (1878,541);
\draw[dR,rK] (1293.3,378.3) coordinate (Re11) -- (1318.3,403.3);
\draw[lnR,rK,toR] (1318.3,403.3) -- (Rkub) -- (Rusa) -- (Rkak) -- (1503.3,470) -- (Rtam) -- (Rmak) -- (1723.3,424.7) -- (Rsuz) -- (1793.3,353.3) -- (Rono) -- (Rb11);
\draw[dR,rN] (1365,681) coordinate (Re14) -- (1399,681);
\draw[lnR,rN,fromR] (Rb14) -- (Roka) -- (Rsan) -- (Rken) -- (Raoy) -- (Rinu) -- (1465,681) -- (Rjun) -- (1399,681);
\draw[dR,rL] (1505,701.7) coordinate (Re12) -- (1536,701.7);
\draw[lnR,rL,fromR] (Rb12) -- (Rlop) -- (1485.7,603.3) -- (1508.3,603.3) -- (Rnara) -- (1531.7,640) -- (1502.7,640) -- (1502.7,668.7) -- (Rdoi) -- (Ryano) -- (1661.7,668.7) -- (1661.7,686.7) -- (Rnis) -- (Rhig |- Rnis) -- (Rhig) -- (Rgon |- Rhig) -- (Rgon) -- (1545,701.7) -- (1536,701.7);
\draw[dR,rC] (1586.7,588.7) coordinate (Re3) -- (1620,588.7);
\draw[lnR,rC,fromR] (Rb3) -- (Rsom3) -- (1898.3,396.7) -- (Rmats) -- (1815.7,396.7) -- (Rkom) -- (1786.7,456.7) -- (1786.7,515) -- (1758.3,540) -- (Rgot) -- (1736.7,567.7) -- (Rgen) -- (Rtan2) -- (1620,588.7);
\draw[dR,rR] (1598.3,476.7) coordinate (Re18) -- (1623.3,500);
\draw[lnR,rR,fromR] (Rb18) -- (Rjo) -- (1849.3,310.7) -- (Rono) -- (1892.3,396.7) -- (Rhon) -- (1865,510.7) -- (Rosa) -- (Rosh) -- (Rasa) -- (1623.3,500);
\draw[dR,rD] (1980,628.3) coordinate (Re4) -- (1956.7,603.3);
\draw[lnR,rD,fromR] (Rb4) -- (Riha) -- (1746,381.7) -- (Rmori2) -- (1706.7,410.7) -- (1763.3,410.7) -- (Rendy) -- (1763.3,483.3) -- (Rtul) -- (Rhon) -- (1892.3,540) -- (Rita) -- (1956.7,603.3);
\draw[dR,rG] (1673.3,692.7) coordinate (Re7) -- (1673.3,658.3);
\draw[lnR,rG,toR] (1673.3,658.3) -- (Rshi) -- (1673.3,440) -- (Rendy) -- (Rnakh) -- (1980,440) -- (Rito) -- (Rb7);
\draw[dR,rO] (1745.7,453.3) coordinate (Re15) -- (1745.7,486.7);
\draw[lnR,rH,fromR] (Rb8) -- (Rnakh) -- (1934,483.3) -- (Rmori) -- (2020,523.3) -- (Roga) -- (2020,582.3) -- (Rmat) -- (Rkiy) -- (Rhar) -- (Rdoa) -- (1925,726.7);
\draw[dR,rH] (1892.3,726.7) coordinate (Re8) -- (1925,726.7);
\draw[lnR,rO,fromR] (Rb15) -- (Rmori) -- (1976.7,525) -- (Rfuk) -- (1856.7,525) -- (1833.3,548.3) -- (Rkon) -- (1833.3,626.7) -- (1812.3,626.7) -- (Rosa) -- (1812.3,496.7) -- (Rkam) -- (1745.7,486.7);
\draw[dR,rV] (2080,443) coordinate (Re22) -- (2055,468.3);
\draw[lnR,rV,fromR] (Rb22) -- (Rhir) -- (1834.7,674) -- (Rich) -- (Rnaz) -- (2048.3,674) -- (2048.3,616.3) -- (Ryos) -- (1992.3,530) -- (2055,468.3);
\draw[dR,rS] (1968.3,654.3) coordinate (Re19) -- (1933.3,654.3);
\draw[lnR,rS,fromR] (Rb19) -- (Rnkn) -- (Roga) -- (Rtsu) -- (Rmrm) -- (Rino) -- (Rsak) -- (1933.3,654.3);
\draw[dR,rU] (1886.7,567.7) coordinate (Re21) -- (1852.7,567.7);
\draw[lnR,rU,fromR] (Rb21) -- (1536.7,654.3) -- (Rtod) -- (1613.3,654.3) -- (Rkji) -- (1652.3,580) -- (1680,580) -- (1694.3,594.3) -- (1694.3,654.3) -- (Rsak) -- (1758.3,567.7) -- (Rued2) -- (1852.7,567.7);
\draw[dR,rT] (1326,256.3) coordinate (Re20) -- (1360,256.3);
\draw[lnR,rT,toR] (1360,256.3) -- (Rmach) -- (Rmak2) -- (Rsaim) -- (1544,256.3) -- (1544,424.7) -- (Rtam) -- (1505,424.7) -- (1505,493.3) -- (Rmyo) -- (1464,534.3) -- (1464,603.3) -- (Rkawa) -- (Rb20);
\draw[dR,rW] (1765,676.7) coordinate (Re23) -- (1740,700);
\draw[lnR,rW,fromR] (Rb23) -- (Rsog) -- (Rkawa) -- (1485.7,668.3) -- (1485.7,706.7) -- (1508.3,728.7) -- (1523.3,728.7) -- (1541.7,712) -- (Rgon) -- (Rkna) -- (Rsch) -- (1740,700);
\draw[dR,rZ] (1383.3,603.3) coordinate (Re26) -- (1358,626);
\draw[lnR,rZ,fromR] (Rb26) -- (Rhit) -- (1358,626);
\draw[dR,rI] (2162.3,616.7) coordinate (Re9) -- (2162.3,581.7);
\draw[lnR,rI,fromR] (Rb9) -- (Rnky) -- (Rnsh) -- (Rtak) -- (Roka2) -- (2162.3,401.7) -- (Rmit) -- (2162.3,581.7);
\draw[dR,rJ] (2150,348.3) coordinate (Re10) -- (2150,313.3);
\draw[lnR,rJ,fromR] (Rb10) -- (Rnan) -- (Rnky) -- (Rshu) -- (1906,176.3) -- (1906,220.3) -- (Rkag) -- (2150,220.3) -- (Rmin) -- (2150,313.3);
\draw[dR,rX] (1974,260.7) coordinate (Re24) -- (1940.7,260.7);
\draw[lnR,rX,fromR] (Rb24) -- (Rsom) -- (1940.7,260.7);
\draw[dR,rY] (2135,445) coordinate (Re25) -- (2108.3,418.3);
\draw[lnR,rY,fromR] (Rb25) -- (Rmae) -- (2108.3,418.3);
\end{pgfonlayer}
\end{scope}
\end{tikzpicture}
\end{document}
